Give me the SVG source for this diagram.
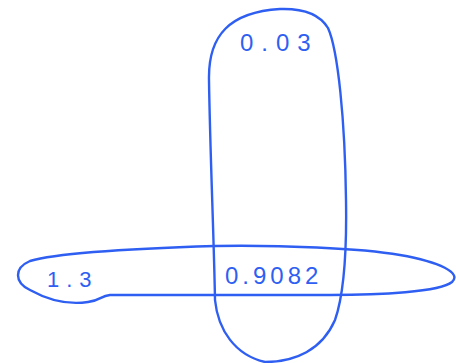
<svg xmlns="http://www.w3.org/2000/svg" width="456" height="363" viewBox="0 0 456 363">
<style>
.s{fill:none;stroke:#2f5ff2;stroke-width:2.4;stroke-linecap:round;stroke-linejoin:round}
.t{fill:#2f5ff2;font-family:"Liberation Sans",Arial,sans-serif;font-weight:normal}
</style>
<rect width="456" height="363" fill="#fff"/>
<g id="vertical">
<path class="s" d="M 215 300 C 214 240, 210 150, 209 80 C 208 35, 230 12, 280 9 C 310 8, 322 18, 328 28 C 338 50, 345 120, 346 200 C 347 260, 342 300, 335 320 C 322 350, 295 362, 265 362 C 235 355, 218 330, 215 300 Z"/>
<text class="t" x="240" y="51" font-size="24" letter-spacing="8">0.03</text>
</g>
<g id="horizontal">
<path class="s" d="M 30 261 C 60 252, 150 248, 215 246 C 280 245, 360 248, 400 255 C 440 262, 462 273, 452 282 C 440 292, 380 295, 330 295 L 110 295 C 100 296, 102 300, 88 302 C 68 305, 48 300, 30 290 C 14 282, 14 268, 30 261 Z"/>
<text class="t" x="47" y="287" font-size="22" letter-spacing="7">1.3</text>
<text class="t" x="225" y="284" font-size="24" letter-spacing="4">0.9082</text>
</g>
<g id="connectors"/>
</svg>
